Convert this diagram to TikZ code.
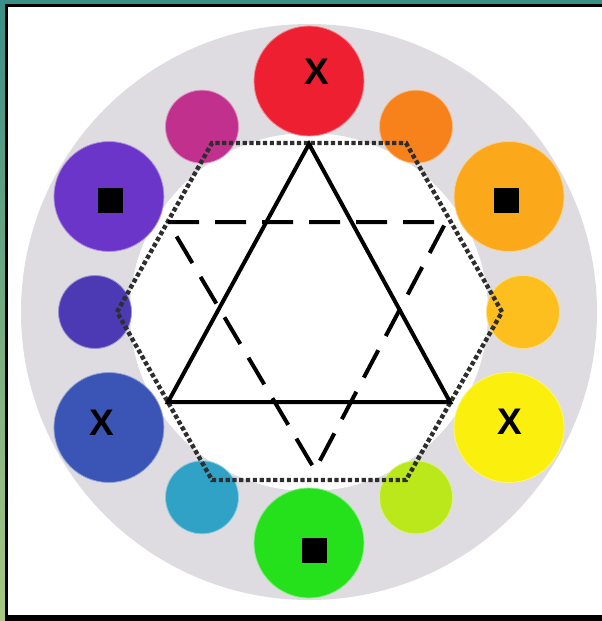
\documentclass[tikz,border=0pt]{standalone}
\usepackage{fontspec}
\setmainfont{Liberation Sans}
\definecolor{cRed}{HTML}{EE1F30}
\definecolor{cOrS}{HTML}{F7821C}
\definecolor{cAmb}{HTML}{FBA91B}
\definecolor{cLOr}{HTML}{FDBF1E}
\definecolor{cYel}{HTML}{FBEF0E}
\definecolor{cYGr}{HTML}{BBE81B}
\definecolor{cGrn}{HTML}{24E11B}
\definecolor{cCya}{HTML}{2FA2C6}
\definecolor{cBlu}{HTML}{3A55B6}
\definecolor{cBVi}{HTML}{4B3AB4}
\definecolor{cPur}{HTML}{6B35C9}
\definecolor{cMag}{HTML}{C1308C}
\definecolor{ringgrey}{HTML}{DEDCE0}
\definecolor{dotgrey}{HTML}{2E2E2E}
\begin{document}
\begin{tikzpicture}[x=1pt,y=-1pt,
  bigc/.style={circle,inner sep=0pt,minimum size=110pt,fill=#1,draw=#1!55!white,line width=0.8pt},
  smallc/.style={circle,inner sep=0pt,minimum size=73pt,fill=#1,draw=#1!55!white,line width=0.8pt},
  xlab/.style={inner sep=0pt,font=\fontsize{37}{37}\selectfont\bfseries},
  sqbox/.style={fill=black,inner sep=0pt,minimum size=25pt},
  hexline/.style={draw=dotgrey,line width=4.4pt,dash pattern=on 4.2pt off 2.6pt},
  soltri/.style={draw=black,line width=4pt,line join=miter},
  dashtri/.style={draw=black,line width=4pt,line join=miter,dash pattern=on 31pt off 16pt}]
\useasboundingbox (0,0) rectangle (602,621);
% background frame
\shade[top color={rgb,255:red,58;green,143;blue,134},bottom color={rgb,255:red,170;green,200;blue,128}] (0,0) rectangle (602,621);
\fill[black] (5,4) rectangle (602,621);
\fill[white] (8,7) rectangle (602,615);
% rings
\coordinate (o) at (309,312);
\fill[ringgrey] (o) circle (288pt);
\fill[white] (o) circle (179pt);
% big circles
\node[bigc=cRed] (cR) at ({309+231*cos(90)},{312-231*sin(90)}) {};
\node[bigc=cAmb] (cA) at ({309+231*cos(30)},{312-231*sin(30)}) {};
\node[bigc=cYel] (cY) at ({309+231*cos(-30)},{312-231*sin(-30)}) {};
\node[bigc=cGrn] (cG) at ({309+231*cos(-90)},{312-231*sin(-90)}) {};
\node[bigc=cBlu] (cB) at ({309+231*cos(-150)},{312-231*sin(-150)}) {};
\node[bigc=cPur] (cP) at ({309+231*cos(150)},{312-231*sin(150)}) {};
% small circles
\node[smallc=cOrS] (sO) at ({309+214*cos(60)},{312-214*sin(60)}) {};
\node[smallc=cLOr] (sL) at ({309+214*cos(0)},{312-214*sin(0)}) {};
\node[smallc=cYGr] (sY) at ({309+214*cos(-60)},{312-214*sin(-60)}) {};
\node[smallc=cCya] (sC) at ({309+214*cos(-120)},{312-214*sin(-120)}) {};
\node[smallc=cBVi] (sB) at ({309+214*cos(180)},{312-214*sin(180)}) {};
\node[smallc=cMag] (sM) at ({309+214*cos(120)},{312-214*sin(120)}) {};
% marks
\node[xlab] (xR) at (317,72) {X};
\node[xlab] (xY) at (510,422) {X};
\node[xlab] (xB) at (102,423) {X};
\node[sqbox] (qA) at (506,200) {};
\node[sqbox] (qP) at (110,200) {};
\node[sqbox] (qG) at (314,550) {};
% hexagon
\coordinate (h0) at (502,312);
\coordinate (h1) at (406,143);
\coordinate (h2) at (212,143);
\coordinate (h3) at (117,312);
\coordinate (h4) at (212,480);
\coordinate (h5) at (406,480);
\draw[hexline] (h0) -- (h1) -- (h2) -- (h3) -- (h4) -- (h5) -- cycle;
% solid triangle
\coordinate (t1) at (309,144);
\coordinate (t2) at (168,402);
\coordinate (t3) at (450,402);
\draw[soltri] (t1) -- (t2) -- (t3) -- cycle;
% dashed triangle
\coordinate (d1) at (168,222);
\coordinate (d2) at (446,222);
\coordinate (d3) at (315,470);
\draw[dashtri] (d1) -- (d2) -- (d3) -- cycle;
\end{tikzpicture}
\end{document}
